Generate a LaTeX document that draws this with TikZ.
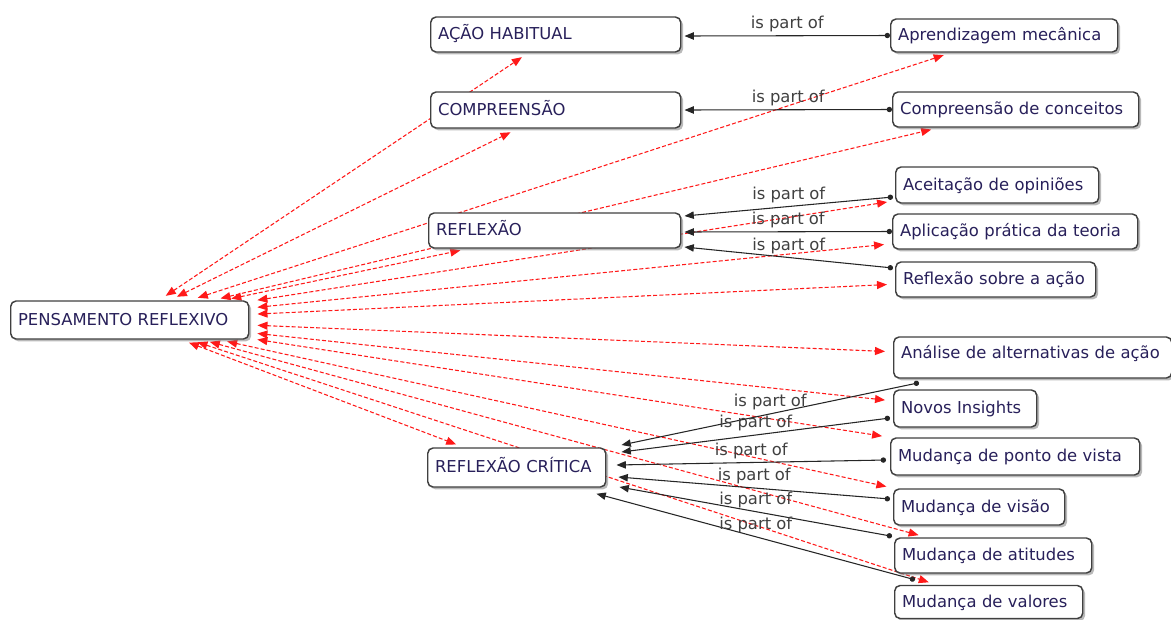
\documentclass[tikz,border=0pt]{standalone}
\usepackage{fontspec}
\setmainfont{DejaVu Sans}
\usetikzlibrary{arrows.meta,shadows}
\definecolor{boxedge}{RGB}{64,64,64}
\definecolor{boxink}{RGB}{40,32,90}
\definecolor{assocred}{RGB}{255,25,25}
\definecolor{partgray}{RGB}{64,64,64}
\pgfdeclarelayer{links}
\pgfsetlayers{links,main}
\tikzset{
  concept/.style={draw=boxedge,line width=1.1pt,rounded corners=4pt,fill=white,
    drop shadow={shadow xshift=1.8pt,shadow yshift=-1.8pt,opacity=0.55},
    anchor=west,align=left,inner xsep=5.5pt,inner ysep=0pt,text=boxink,
    font=\fontsize{12.3}{14}\selectfont,text height=9pt,text depth=1.5pt},
  assoc/.style={draw=assocred,line width=0.8pt,dash pattern=on 3pt off 1.6pt,
    {Triangle[length=7.5pt,width=6pt,fill=assocred]}-{Triangle[length=7.5pt,width=6pt,fill=assocred]},
    shorten <=6pt,shorten >=6pt},
  partof/.style={draw=black!85,line width=0.8pt,{Circle[length=4pt]}-{Triangle[length=7pt,width=5.5pt]}},
  partlbl/.style={text=partgray,font=\fontsize{12.3}{14}\selectfont,inner sep=2.5pt,midway,above}
}
\newcommand\cbox[7][]{%
  \pgfmathsetmacro\boxtw{#5*0.75-11}%
  \node[concept,#1,text width=\boxtw pt,minimum height=#6*0.75pt] (#2) at (#3,#4) {\mbox{#7}};}

\begin{document}
\begin{tikzpicture}[x=0.75pt,y=-0.75pt]
\useasboundingbox (0,0) rectangle (1171,619);
\cbox{pens}{10}{320}{238}{38}{PENSAMENTO REFLEXIVO}
\cbox{acao}{430}{34.5}{250}{35}{AÇÃO HABITUAL}
\cbox{compr}{430}{110}{250}{36}{COMPREENSÃO}
\cbox{refl}{428}{230.5}{252}{35}{REFLEXÃO}
\cbox{reflc}{427}{467.5}{178}{39}{REFLEXÃO CRÍTICA}
\cbox{aprend}{890}{35.5}{227}{33}{Aprendizagem mecânica}
\cbox{compc}{892}{109.5}{246}{35}{Compreensão de conceitos}
\cbox{aceit}{895}{185}{203}{36}{Aceitação de opiniões}
\cbox{aplic}{892}{231.5}{245}{35}{Aplicação prática da teoria}
\cbox{rsobre}{895}{279.5}{200}{35}{Reflexão sobre a ação}
\cbox[text depth=6.8pt]{anal}{893}{357.5}{278}{41}{Análise de alternativas de ação}
\cbox{novos}{893}{408.5}{143}{37}{Novos Insights}
\cbox{ponto}{890}{456.5}{249}{37}{Mudança de ponto de vista}
\cbox{visao}{893}{507}{171}{36}{Mudança de visão}
\cbox{atit}{894}{555.5}{197}{35}{Mudança de atitudes}
\cbox{valor}{894}{602}{188}{33}{Mudança de valores}

\begin{pgfonlayer}{links}
\foreach \n in {acao,compr,refl,reflc,aprend,compc,aceit,aplic,rsobre,anal,novos,ponto,visao,atit,valor}
  \draw[assoc] (pens) -- (\n);
\draw[partof] (aprend.west) -- ([shift={(3,1.5)}]acao.east) node[partlbl] {is part of};
\draw[partof] (compc.west) -- ([shift={(3,0)}]compr.east) node[partlbl] {is part of};
\draw[partof] ([shift={(-2,12)}]aceit.west) -- ([shift={(3,-14.5)}]refl.east) node[partlbl] {is part of};
\draw[partof] (aplic.west) -- ([shift={(3,1.5)}]refl.east) node[partlbl] {is part of};
\draw[partof] ([shift={(-2,-11.5)}]rsobre.west) -- ([shift={(3,16.5)}]refl.east) node[partlbl] {is part of};
\draw[partof] ([shift={(26,4)}]anal.south west) -- ([shift={(15,-22.5)}]reflc.east) node[partlbl] {is part of};
\draw[partof] ([shift={(-3,9.5)}]novos.west) -- ([shift={(15,-15.5)}]reflc.east) node[partlbl] {is part of};
\draw[partof] ([shift={(-4,3.5)}]ponto.west) -- ([shift={(10,-2.5)}]reflc.east) node[partlbl] {is part of};
\draw[partof] ([shift={(-3,-8)}]visao.west) -- ([shift={(12,9.5)}]reflc.east) node[partlbl] {is part of};
\draw[partof] ([shift={(-2,-1)}]atit.north west) -- ([shift={(13,19.5)}]reflc.east) node[partlbl] {is part of};
\draw[partof] ([shift={(21,-5)}]valor.north west) -- ([shift={(-10,6)}]reflc.south east) node[partlbl] {is part of};
\end{pgfonlayer}
\end{tikzpicture}
\end{document}
